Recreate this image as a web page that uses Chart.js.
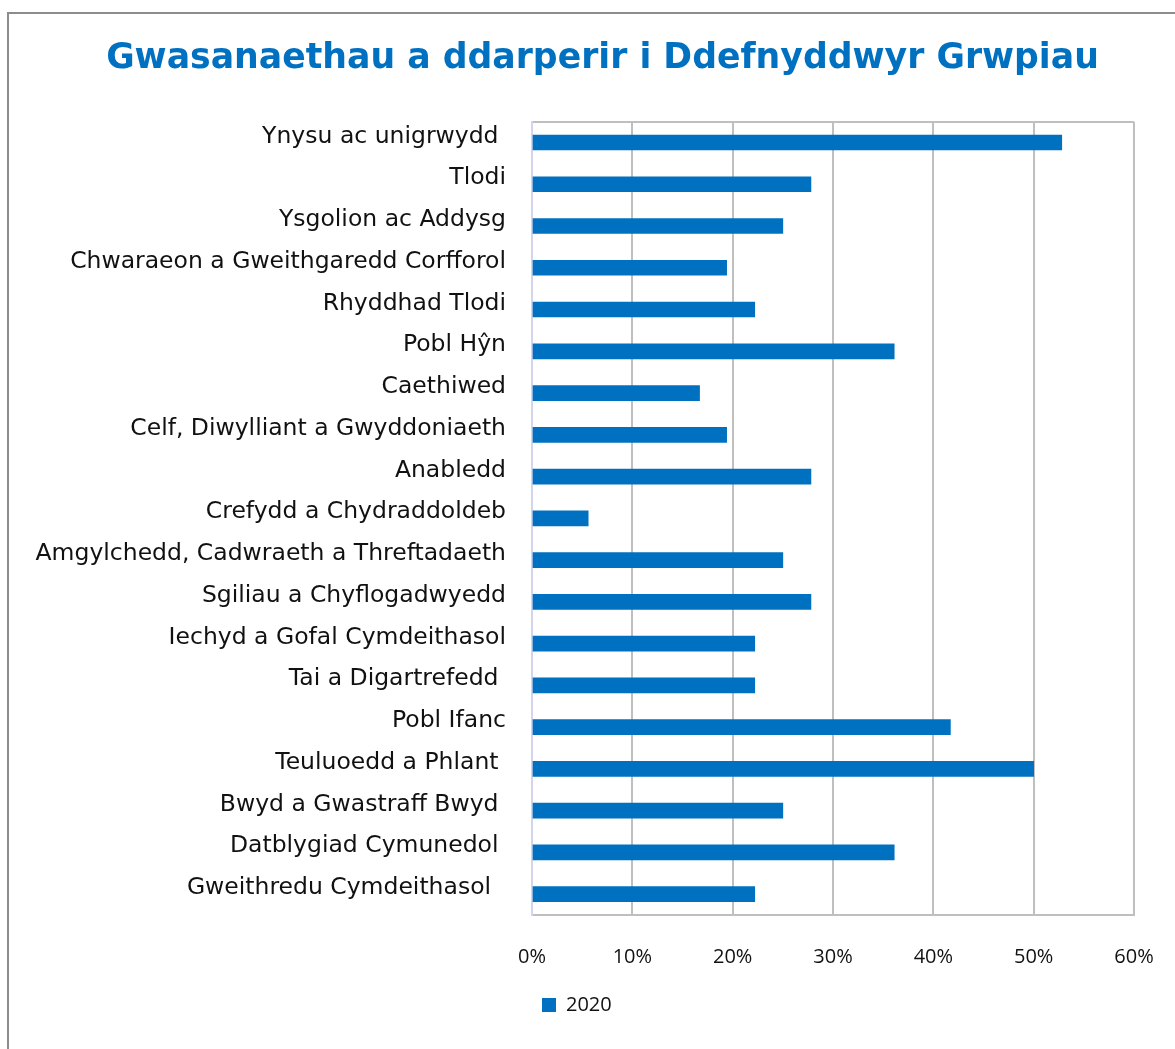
<!DOCTYPE html>
<html>
<head>
<meta charset="utf-8">
<script src="https://cdn.jsdelivr.net/npm/chart.js@4.4.0/dist/chart.umd.min.js"></script>
<style>
  html, body { margin: 0; padding: 0; background: #fff; }
  #wrap { width: 1175px; height: 1049px; position: relative; }
</style>
</head>
<body>
<div id="wrap"><canvas id="grafica" width="1175" height="1049"></canvas></div>
<script>
// categories, top to bottom (trailing spaces keep the label spacing as typed)
const categories = [
  'Ynysu ac unigrwydd ',
  'Tlodi',
  'Ysgolion ac Addysg',
  'Chwaraeon a Gweithgaredd Corfforol',
  'Rhyddhad Tlodi',
  'Pobl Hŷn',
  'Caethiwed',
  'Celf, Diwylliant a Gwyddoniaeth',
  'Anabledd',
  'Crefydd a Chydraddoldeb',
  'Amgylchedd, Cadwraeth a Threftadaeth',
  'Sgiliau a Chyflogadwyedd',
  'Iechyd a Gofal Cymdeithasol',
  'Tai a Digartrefedd ',
  'Pobl Ifanc',
  'Teuluoedd a Phlant ',
  'Bwyd a Gwastraff Bwyd ',
  'Datblygiad Cymunedol ',
  'Gweithredu Cymdeithasol  ',
];

// share of groups (%), 2020
const values2020 = [
  52.8, 27.8, 25.0, 19.4, 22.2, 36.1, 16.7, 19.4, 27.8, 5.6,
  25.0, 27.8, 22.2, 22.2, 41.7, 50.0, 25.0, 36.1, 22.2,
];

const xTicks = [0, 10, 20, 30, 40, 50, 60];

const azul = '#0070C0';
const gris = '#bfbfbf';

// outer grey frame around the whole chart
const marco = {
  id: 'marco',
  beforeDraw(chart) {
    const { ctx } = chart;
    ctx.save();
    ctx.fillStyle = '#fff';
    ctx.fillRect(0, 0, chart.width, chart.height);
    ctx.strokeStyle = '#8c8c8c';
    ctx.lineWidth = 2;
    ctx.strokeRect(8, 13, chart.width + 20, chart.height + 20);
    ctx.restore();
  },
};

// eslint-disable-next-line no-new, no-undef
new Chart(document.querySelector('#grafica'), {
  type: 'bar',
  data: {
    labels: categories,
    datasets: [{
      label: '2020',
      data: values2020,
      backgroundColor: azul,
      borderColor: azul,
      borderWidth: 0,
      barThickness: 15,
    }],
  },
  plugins: [marco],
  options: {
    indexAxis: 'y',
    responsive: false,
    animation: false,
    devicePixelRatio: 1,
    layout: { padding: { left: 30, right: 0, top: 38, bottom: 24 } },
    scales: {
      x: {
        min: 0,
        max: 60,
        afterBuildTicks: (scale) => { scale.ticks = xTicks.map((v) => ({ value: v })); },
        afterFit: (scale) => {
          scale.height = 70;
          // room on the right for the 60% label
          scale.paddingLeft = 0;
          scale.paddingRight = 41;
        },
        ticks: {
          callback: (v) => `${v}%`,
          color: '#111',
          padding: 30,
          font: { family: 'Open Sans', size: 20 },
        },
        grid: {
          color: (c) => (c.index === 0 ? '#d4d4ee' : gris),
          lineWidth: 2,
          drawTicks: false,
        },
        border: { display: true, color: gris, width: 2 },
      },
      y: {
        afterFit: (scale) => { scale.width = 502; },
        ticks: {
          color: '#111',
          padding: 26,
          labelOffset: -6,
          font: { family: 'DejaVu Sans', size: 23.5 },
        },
        grid: {
          color: (c) => (c.index === 0 ? gris : 'transparent'),
          lineWidth: 2,
          drawTicks: false,
        },
        border: { display: true, color: '#d4d4ee', width: 2 },
      },
    },
    plugins: {
      title: {
        display: true,
        text: 'Gwasanaethau a ddarperir i Ddefnyddwyr Grwpiau',
        color: azul,
        font: { family: 'DejaVu Sans', size: 34.7, weight: 'bold' },
        padding: { top: 0, bottom: 42 },
      },
      legend: {
        position: 'bottom',
        align: 'start',
        fullSize: false,
        labels: {
          boxWidth: 14,
          boxHeight: 14,
          color: '#111',
          padding: 10,
          font: { family: 'Open Sans', size: 20 },
        },
      },
      tooltip: { enabled: false },
    },
  },
});
</script>
</body>
</html>
